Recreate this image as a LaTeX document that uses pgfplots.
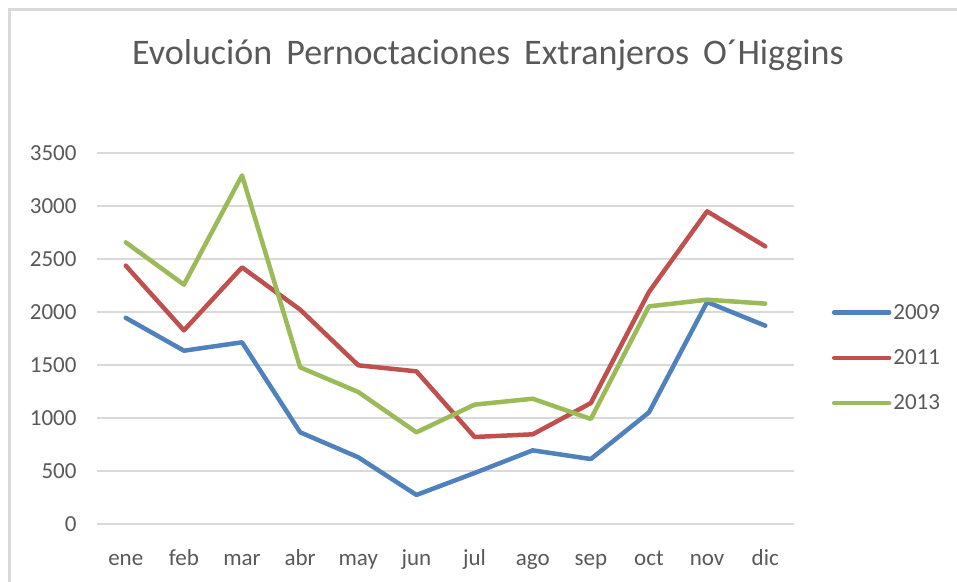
\documentclass[border=0pt]{standalone}
\usepackage{pgfplots}
\pgfplotsset{compat=1.18}
\usepackage{fontspec}
\setmainfont{Carlito}
\definecolor{txt}{HTML}{595959}
\definecolor{grd}{HTML}{D9D9D9}
\definecolor{c1}{HTML}{4F81BD}
\definecolor{c2}{HTML}{C0504D}
\definecolor{c3}{HTML}{9BBB59}
\begin{document}
\begin{tikzpicture}
\useasboundingbox (0pt,0pt) rectangle (957pt,581pt);
\fill[white] (0pt,0pt) rectangle (957pt,581pt);
\draw[grd, line width=2.5pt] (9.5pt,-10pt) -- (9.5pt,571.5pt) -- (970pt,571.5pt);
\begin{axis}[
  at={(96.7pt,57pt)}, anchor=south west,
  width=697.6pt, height=371pt, scale only axis,
  xmin=-0.5, xmax=11.5, ymin=0, ymax=3500,
  xtick={0,1,2,3,4,5,6,7,8,9,10,11},
  xticklabels={ene,feb,mar,abr,may,jun,jul,ago,sep,oct,nov,dic},
  ytick={0,500,1000,1500,2000,2500,3000,3500},
  axis x line*=bottom, axis y line*=left,
  x axis line style={grd, line width=1.3pt, -},
  y axis line style={draw=none},
  major tick length=0pt,
  ymajorgrids, grid style={grd, line width=1.3pt},
  tick label style={font=\fontsize{23}{27}\selectfont, text=txt},
  /pgf/number format/assume math mode=true,
  yticklabel style={inner sep=0pt, anchor=east, xshift=-20pt},
  xticklabel style={inner sep=0pt, anchor=base, yshift=-41pt},
  scaled y ticks=false,
  yticklabel={\pgfmathprintnumber[fixed,1000 sep={}]{\tick}},
  legend style={draw=none, fill=none, at={(1.0493,0.604)}, anchor=north west,
    font=\fontsize{23}{27}\selectfont, text=txt, row sep=25pt,
    /tikz/every even column/.append style={column sep=5pt}},
  legend cell align=left,
  legend image code/.code={\draw[#1, line width=4.5pt, line cap=round] (0pt,0pt) -- (55pt,0pt);},
  every axis plot/.append style={line width=4.5pt, line join=round, line cap=round},
]
\addplot[c1] coordinates {(0,1945)(1,1635)(2,1714)(3,865)(4,629)(5,274)(6,481)(7,695)(8,613)(9,1053)(10,2094)(11,1871)};
\addplot[c2] coordinates {(0,2437)(1,1827)(2,2421)(3,2022)(4,1497)(5,1440)(6,821)(7,846)(8,1141)(9,2189)(10,2950)(11,2619)};
\addplot[c3] coordinates {(0,2657)(1,2258)(2,3289)(3,1478)(4,1245)(5,865)(6,1126)(7,1182)(8,991)(9,2053)(10,2116)(11,2079)};
\legend{2009,2011,2013}
\end{axis}
\node[text=txt, font=\fontsize{36}{42}\selectfont, anchor=base] at (488pt,516pt) {Evolución\hspace{6pt} Pernoctaciones\hspace{6pt} Extranjeros\hspace{6pt} O´Higgins};
\end{tikzpicture}
\end{document}
